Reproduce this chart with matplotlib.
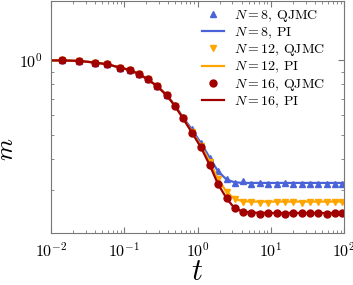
import numpy as np
import matplotlib.pyplot as plt
from matplotlib.ticker import LogLocator, NullFormatter

plt.rcParams['font.family'] = 'serif'
plt.rcParams['font.serif'] = ['cmr10']
plt.rcParams['mathtext.fontset'] = 'cm'
plt.rcParams['axes.formatter.use_mathtext'] = True

# sampling times (shared by all series)
t = [0.014, 0.024, 0.040, 0.058, 0.088, 0.12, 0.16, 0.21, 0.28, 0.38, 0.49,
     0.63, 0.84, 1.12, 1.48, 1.9, 2.5, 3.2, 4.2, 5.4, 7.1, 9.2, 12.2, 15.7,
     20.1, 26.7, 34.4, 44.2, 58.6, 75.3, 94.0]

m8_qjmc = [1.0, 0.995, 0.980, 0.965, 0.935, 0.913, 0.880, 0.838, 0.789, 0.724,
           0.659, 0.590, 0.527, 0.462, 0.404, 0.358, 0.330, 0.320, 0.324, 0.317,
           0.318, 0.316, 0.316, 0.319, 0.317, 0.317, 0.316, 0.317, 0.317, 0.317, 0.317]
m12_qjmc = [1.0, 0.995, 0.980, 0.965, 0.935, 0.913, 0.880, 0.837, 0.788, 0.722,
            0.656, 0.586, 0.514, 0.451, 0.389, 0.331, 0.294, 0.275, 0.267, 0.266,
            0.264, 0.265, 0.266, 0.266, 0.266, 0.265, 0.266, 0.266, 0.266, 0.267, 0.266]
m16_qjmc = [1.0, 0.995, 0.980, 0.965, 0.935, 0.913, 0.880, 0.837, 0.787, 0.721,
            0.655, 0.584, 0.510, 0.444, 0.376, 0.316, 0.277, 0.252, 0.243, 0.241,
            0.239, 0.241, 0.241, 0.238, 0.241, 0.242, 0.242, 0.241, 0.239, 0.241, 0.242]

# path-integral curves
t_pi = [0.01, 0.014, 0.024, 0.040, 0.058, 0.088, 0.12, 0.16, 0.21, 0.28, 0.38,
        0.49, 0.63, 0.84, 1.12, 1.48, 1.9, 2.5, 3.2, 4.2, 5.4, 10.0, 30.0, 100.0]
m8_pi = [1.0, 1.0, 0.995, 0.980, 0.965, 0.935, 0.913, 0.880, 0.838, 0.789, 0.724,
         0.659, 0.590, 0.525, 0.461, 0.402, 0.356, 0.329, 0.321, 0.319, 0.319,
         0.319, 0.319, 0.319]
m12_pi = [1.0, 1.0, 0.995, 0.980, 0.965, 0.935, 0.913, 0.880, 0.837, 0.788, 0.722,
          0.656, 0.586, 0.514, 0.450, 0.388, 0.331, 0.293, 0.275, 0.269, 0.268,
          0.268, 0.268, 0.268]
m16_pi = [1.0, 1.0, 0.995, 0.980, 0.965, 0.935, 0.913, 0.880, 0.837, 0.787, 0.721,
          0.655, 0.584, 0.510, 0.443, 0.375, 0.316, 0.276, 0.252, 0.244, 0.242,
          0.241, 0.241, 0.241]

blue = '#4a63d8'
orange = '#ffa500'
red = '#a00000'

fig = plt.figure(figsize=(3.53, 2.85), dpi=100)
ax = fig.add_axes([51/353, 52/285, 293/353, 232/285])

ax.plot(t, m8_qjmc, '^', color=blue, ms=5, lw=0, label=r'$N=8$, QJMC')
ax.plot(t_pi, m8_pi, '-', color=blue, lw=1.6, label=r'$N=8$, PI')
ax.plot(t, m12_qjmc, 'v', color=orange, ms=5, lw=0, label=r'$N=12$, QJMC')
ax.plot(t_pi, m12_pi, '-', color=orange, lw=1.6, label=r'$N=12$, PI')
ax.plot(t, m16_qjmc, 'o', color=red, ms=5, lw=0, label=r'$N=16$, QJMC')
ax.plot(t_pi, m16_pi, '-', color=red, lw=1.6, label=r'$N=16$, PI')

ax.set_xscale('log')
ax.set_yscale('log')
ax.set_xlim(0.01, 100)
ax.set_ylim(0.2, 1.74)
ax.yaxis.set_minor_formatter(NullFormatter())
ax.xaxis.set_minor_locator(LogLocator(base=10, subs=np.arange(2, 10)))

for s in ax.spines.values():
    s.set_color('#777777')
ax.tick_params(which='both', direction='in', top=True, right=True, color='#777777',
               labelsize=11.5)
ax.tick_params(which='major', length=4, pad=6)
ax.tick_params(which='minor', length=2)

ax.set_xlabel(r'$t$', fontsize=22)
ax.set_ylabel(r'$m$', fontsize=18)
ax.xaxis.set_label_coords(0.5, -0.11)
ax.yaxis.set_label_coords(-0.112, 0.36)

ax.legend(loc='upper right', bbox_to_anchor=(0.955, 0.995), frameon=False,
          fontsize=10, handlelength=1.6, handletextpad=0.75, labelspacing=0.12,
          borderaxespad=0.0)

fig.savefig('out.png', dpi=100)
